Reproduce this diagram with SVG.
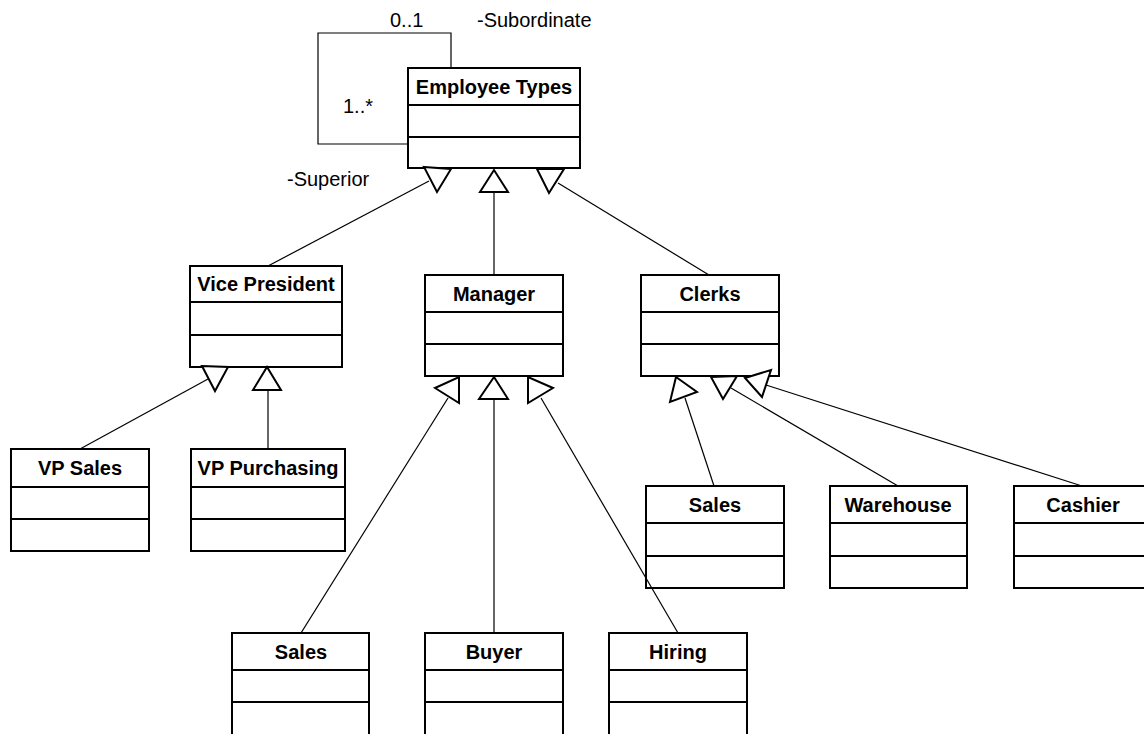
<svg xmlns="http://www.w3.org/2000/svg" width="1144" height="734" viewBox="0 0 1144 734">
<style>
.box rect{fill:#fff;stroke:#000;stroke-width:2}
.box line{stroke:#000;stroke-width:2}
.t{font-family:"Liberation Sans",Arial,sans-serif;font-size:20px;font-weight:bold;text-anchor:middle;fill:#000}
.lbl{font-family:"Liberation Sans",Arial,sans-serif;font-size:20px;fill:#000}
.c line,.c path{stroke:#000;stroke-width:1.2;fill:none}
.c polygon{fill:#fff;stroke:#000;stroke-width:2;stroke-linejoin:miter}
</style>
<rect width="1144" height="734" fill="#fff"/>
<g id="employee-types" class="box"><rect x="408" y="68" width="172" height="100"/><line x1="408" y1="105" x2="580" y2="105"/><line x1="408" y1="137" x2="580" y2="137"/><text class="t" x="494" y="94">Employee Types</text></g>
<g id="vice-president" class="box"><rect x="190" y="266" width="152" height="101"/><line x1="190" y1="302" x2="342" y2="302"/><line x1="190" y1="335" x2="342" y2="335"/><text class="t" x="266" y="291">Vice President</text></g>
<g id="vp-sales" class="box"><rect x="11" y="449" width="138" height="102"/><line x1="11" y1="487" x2="149" y2="487"/><line x1="11" y1="519" x2="149" y2="519"/><text class="t" x="80" y="475">VP Sales</text></g>
<g id="vp-purchasing" class="box"><rect x="191" y="449" width="154" height="102"/><line x1="191" y1="487" x2="345" y2="487"/><line x1="191" y1="519" x2="345" y2="519"/><text class="t" x="268" y="475">VP Purchasing</text></g>
<g id="manager" class="box"><rect x="425" y="275" width="138" height="101"/><line x1="425" y1="312" x2="563" y2="312"/><line x1="425" y1="344" x2="563" y2="344"/><text class="t" x="494" y="301">Manager</text></g>
<g id="clerks" class="box"><rect x="641" y="275" width="138" height="101"/><line x1="641" y1="312" x2="779" y2="312"/><line x1="641" y1="344" x2="779" y2="344"/><text class="t" x="710" y="301">Clerks</text></g>
<g id="clerk-sales" class="box"><rect x="646" y="486" width="138" height="102"/><line x1="646" y1="523" x2="784" y2="523"/><line x1="646" y1="556" x2="784" y2="556"/><text class="t" x="715" y="512">Sales</text></g>
<g id="warehouse" class="box"><rect x="830" y="486" width="137" height="102"/><line x1="830" y1="523" x2="967" y2="523"/><line x1="830" y1="556" x2="967" y2="556"/><text class="t" x="898" y="512">Warehouse</text></g>
<g id="cashier" class="box"><rect x="1014" y="486" width="138" height="102"/><line x1="1014" y1="523" x2="1152" y2="523"/><line x1="1014" y1="556" x2="1152" y2="556"/><text class="t" x="1083" y="512">Cashier</text></g>
<g id="mgr-sales" class="box"><rect x="232" y="633" width="137" height="103"/><line x1="232" y1="670" x2="369" y2="670"/><line x1="232" y1="702" x2="369" y2="702"/><text class="t" x="301" y="659">Sales</text></g>
<g id="buyer" class="box"><rect x="425" y="633" width="138" height="103"/><line x1="425" y1="670" x2="563" y2="670"/><line x1="425" y1="702" x2="563" y2="702"/><text class="t" x="494" y="659">Buyer</text></g>
<g id="hiring" class="box"><rect x="609" y="633" width="138" height="103"/><line x1="609" y1="670" x2="747" y2="670"/><line x1="609" y1="702" x2="747" y2="702"/><text class="t" x="678" y="659">Hiring</text></g>
<g id="connectors" class="c">
<path d="M451,68 V33 H318 V144 H408"/>
<line x1="268" y1="266" x2="429" y2="181"/>
<line x1="494" y1="192" x2="494" y2="275"/>
<line x1="558" y1="183" x2="709" y2="275"/>
<line x1="80" y1="449" x2="208" y2="379"/>
<line x1="268" y1="390" x2="268" y2="449"/>
<line x1="301" y1="633" x2="448" y2="398"/>
<line x1="494" y1="399" x2="494" y2="633"/>
<line x1="541" y1="398" x2="678" y2="633"/>
<line x1="685" y1="398" x2="714" y2="486"/>
<line x1="731" y1="388" x2="898" y2="486"/>
<line x1="766" y1="385" x2="1082" y2="486"/>
<polygon points="424,167 451,169 437,192"/>
<polygon points="480,192 508,192 494,170"/>
<polygon points="537,169 564,169 549,193"/>
<polygon points="202,366 228,367 215,391"/>
<polygon points="253,390 281,390 267,367"/>
<polygon points="435,388 459,377 459,403"/>
<polygon points="479,399 508,399 494,377"/>
<polygon points="528,377 528,403 553,388"/>
<polygon points="676,377 697,392 670,402"/>
<polygon points="711,377 737,376 723,399"/>
<polygon points="745,378 771,370 762,397"/>
<text class="lbl" x="390" y="27">0..1</text>
<text class="lbl" x="477" y="27">-Subordinate</text>
<text class="lbl" x="343" y="113">1..*</text>
<text class="lbl" x="287" y="186">-Superior</text>
</g>
</svg>
